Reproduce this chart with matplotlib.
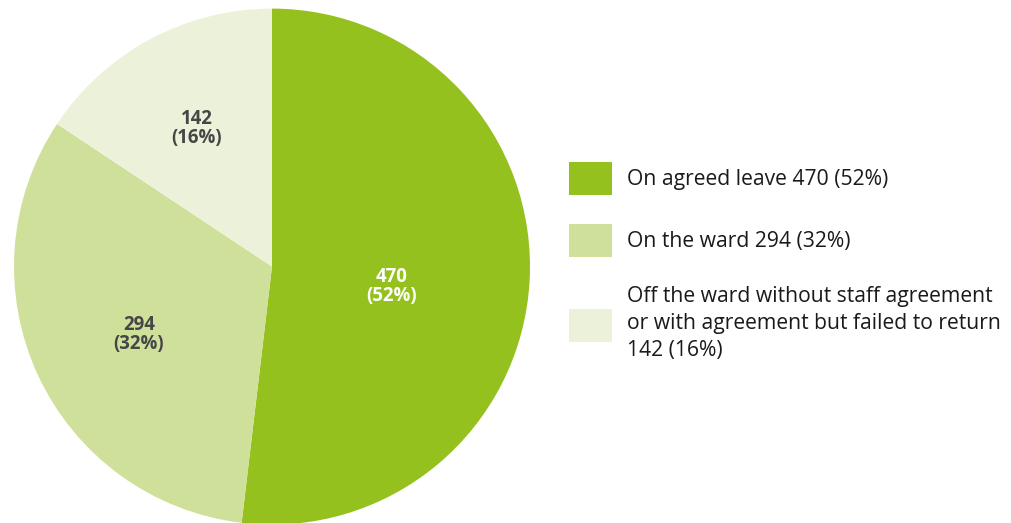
import numpy as np
import matplotlib
matplotlib.use("Agg")
from matplotlib import pyplot as plt

### Where patients were when the incident happened

labels = ["On agreed leave", "On the ward",
          "Off the ward without staff agreement\nor with agreement but failed to return\n"]
counts = [470, 294, 142]
colours = ["#95c11f", "#cfe09b", "#ecf2da"]
textColours = ["white", "#464646", "#464646"]
labelRadius = [0.47, 0.58, 0.61]
labelTurn = [-6.2, 2.3, 0.5]

plt.rcParams['font.family'] = ['Open Sans', 'DejaVu Sans']

total = sum(counts)
pcts = [round(100 * c / total) for c in counts]

fig = plt.figure(figsize=(10.11, 5.23), dpi=100)
W, H = 1011, 523
ax = fig.add_axes([14 / W, (523 - 524.6) / H, 516 / W, 516 / H])

wedges, _ = ax.pie(counts, colors=colours, startangle=90, counterclock=False,
                   radius=1, wedgeprops=dict(linewidth=0))
ax.set_xlim(-1, 1)
ax.set_ylim(-1, 1)
ax.set_aspect('equal')
ax.axis('off')

for i in range(len(wedges)):
    w = wedges[i]
    mid = np.deg2rad((w.theta1 + w.theta2) / 2 + labelTurn[i])
    x = labelRadius[i] * np.cos(mid)
    y = labelRadius[i] * np.sin(mid)
    ax.text(x, y, "%d\n(%d%%)" % (counts[i], pcts[i]), ha='center', va='center',
            fontsize=13.4, fontweight='bold', color=textColours[i], linespacing=0.95)

legendLabels = []
for i in range(len(labels)):
    if labels[i].endswith("\n"):
        legendLabels.append("%s%d (%d%%)" % (labels[i], counts[i], pcts[i]))
    else:
        legendLabels.append("%s %d (%d%%)" % (labels[i], counts[i], pcts[i]))

leg = fig.legend(wedges, legendLabels, loc='upper left',
                 bbox_to_anchor=(569 / W, 1 - 162 / H), frameon=False,
                 fontsize=15.2, handlelength=2.04, handleheight=2.03,
                 handletextpad=0.71, labelspacing=1.38, borderpad=0,
                 borderaxespad=0)
for t in leg.get_texts():
    t.set_color("#1a1a1a")
    t.set_linespacing(1.38)

fig.savefig("out.png", dpi=100)
